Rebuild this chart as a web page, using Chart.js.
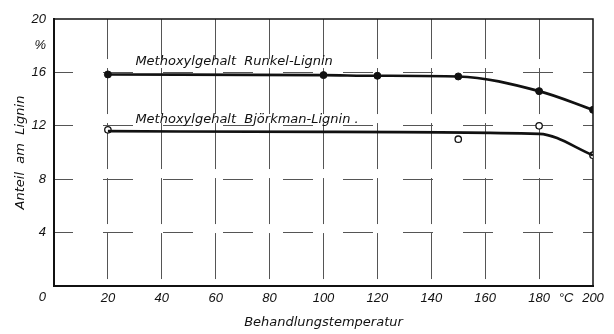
<!DOCTYPE html>
<html>
<head>
<meta charset="utf-8">
<script src="https://cdn.jsdelivr.net/npm/chart.js@4"></script>
<style>
  html, body { margin: 0; padding: 0; background: #fff; }
  #wrap { width: 614px; height: 334px; }
</style>
</head>
<body>
<div id="wrap"><canvas id="methoxyl"></canvas></div>
<script>
// Messwerte Runkel-Lignin (gefüllte Punkte)
const runkelTemps = [20, 100, 120, 150, 180, 200];
const runkelValues = [15.85, 15.8, 15.75, 15.7, 14.6, 13.2];

// Messwerte Björkman-Lignin (offene Punkte)
const bjorkmanTemps = [20, 150, 180, 200];
const bjorkmanValues = [11.7, 11.0, 12.0, 9.8];

// ausgeglichene Kurve Björkman-Lignin
const bjorkmanCurveTemps = [20, 100, 180, 200];
const bjorkmanCurveValues = [11.6, 11.55, 11.4, 9.8];

// Achsenteilung
const xTickValues = [0, 20, 40, 60, 80, 100, 120, 140, 160, 180, 190, 200];
const yTickValues = [0, 4, 8, 12, 16, 18, 20];

const seriesLabels = ['Methoxylgehalt  Runkel-Lignin', 'Methoxylgehalt  Björkman-Lignin .'];
const labelAnchors = [{ x: 30.2, y: 16.8 }, { x: 30.2, y: 12.45 }];

const toPoints = (xs, ys) => xs.map((x, i) => ({ x, y: ys[i] }));

const INK = '#111';
const textFont = { family: 'DejaVu Sans', size: 13, style: 'italic' };

// Rahmen oben/rechts und Kurvenbeschriftung
const frameAndLabels = {
  id: 'frameAndLabels',
  beforeDatasetsDraw(chart) {
    const { ctx, chartArea: a } = chart;
    ctx.save();
    ctx.strokeStyle = INK;
    ctx.lineWidth = 1.5;
    ctx.beginPath();
    ctx.moveTo(a.left, a.top);
    ctx.lineTo(a.right, a.top);
    ctx.lineTo(a.right, a.bottom);
    ctx.stroke();
    ctx.restore();
  },
  afterDatasetsDraw(chart) {
    const { ctx, scales } = chart;
    ctx.save();
    ctx.fillStyle = INK;
    ctx.font = 'italic 13px "DejaVu Sans"';
    ctx.textBaseline = 'middle';
    ctx.textAlign = 'left';
    seriesLabels.forEach((txt, i) => {
      const p = labelAnchors[i];
      ctx.fillText(txt, scales.x.getPixelForValue(p.x), scales.y.getPixelForValue(p.y));
    });
    ctx.restore();
  }
};

new Chart(document.getElementById('methoxyl'), {
  type: 'line',
  data: {
    datasets: [
      {
        label: 'Runkel-Lignin',
        data: toPoints(runkelTemps, runkelValues),
        borderColor: INK,
        borderWidth: 2.6,
        cubicInterpolationMode: 'monotone',
        pointRadius: 3.5,
        pointBackgroundColor: INK,
        pointBorderColor: INK,
        pointBorderWidth: 1
      },
      {
        label: 'Björkman-Lignin Kurve',
        data: toPoints(bjorkmanCurveTemps, bjorkmanCurveValues),
        borderColor: INK,
        borderWidth: 2.6,
        cubicInterpolationMode: 'monotone',
        pointRadius: 0
      },
      {
        label: 'Björkman-Lignin',
        data: toPoints(bjorkmanTemps, bjorkmanValues),
        showLine: false,
        pointRadius: 3.2,
        pointBackgroundColor: '#fff',
        pointBorderColor: INK,
        pointBorderWidth: 1.3
      }
    ]
  },
  options: {
    responsive: true,
    maintainAspectRatio: false,
    animation: false,
    layout: { padding: { top: 18, right: 21, left: 0, bottom: 0 } },
    plugins: { legend: { display: false }, tooltip: { enabled: false } },
    scales: {
      x: {
        type: 'linear',
        min: 0,
        max: 200,
        afterBuildTicks: s => { s.ticks = xTickValues.map(v => ({ value: v })); },
        afterFit: s => { s.height = 48; },
        grid: {
          drawTicks: false,
          lineWidth: 1,
          color: c => ([0, 190, 200].includes(c.tick.value) ? 'transparent' : '#555')
        },
        border: { display: true, color: INK, width: 2, dash: [46, 9], dashOffset: 6 },
        ticks: {
          padding: 5,
          color: INK,
          maxRotation: 0,
          autoSkip: false,
          font: { family: 'Liberation Sans', size: 13, style: 'italic' },
          callback: v => (v === 0 ? '' : v === 190 ? '°C' : String(v))
        },
        title: {
          display: true,
          text: 'Behandlungstemperatur',
          color: INK,
          font: textFont,
          padding: { top: 0, bottom: 4 }
        }
      },
      y: {
        type: 'linear',
        min: 0,
        max: 20,
        afterBuildTicks: s => { s.ticks = yTickValues.map(v => ({ value: v })); },
        afterFit: s => { s.width = 54; },
        grid: {
          drawTicks: false,
          lineWidth: 1,
          color: c => ([0, 18, 20].includes(c.tick.value) ? 'transparent' : '#555')
        },
        border: { display: true, color: INK, width: 2, dash: [30, 30], dashOffset: 12 },
        ticks: {
          padding: 8,
          color: INK,
          autoSkip: false,
          font: { family: 'Liberation Sans', size: 13, style: 'italic', lineHeight: 1.7 },
          callback: v => (v === 0 ? ['', '0'] : v === 18 ? '%' : String(v))
        },
        title: {
          display: true,
          text: 'Anteil  am  Lignin',
          color: INK,
          font: textFont,
          padding: { top: 13, bottom: 0 }
        }
      }
    }
  },
  plugins: [frameAndLabels]
});
</script>
</body>
</html>
